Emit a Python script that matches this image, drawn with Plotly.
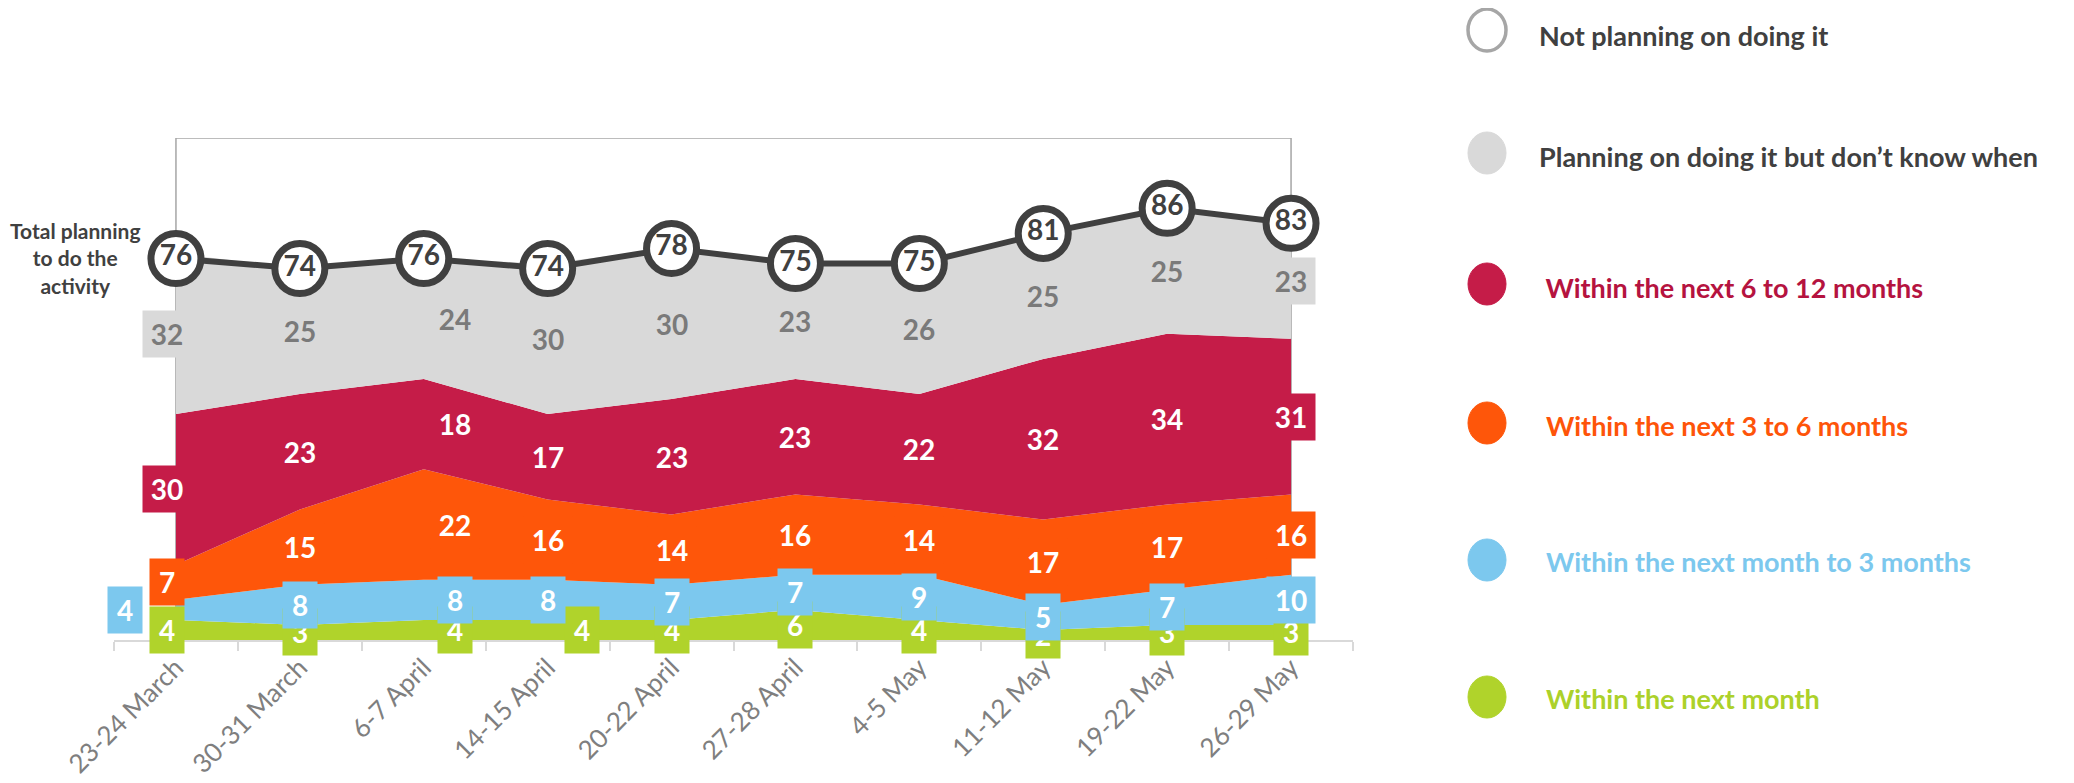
import plotly.graph_objects as go

# ---------------- data ----------------
categories = ["23-24 March", "30-31 March", "6-7 April", "14-15 April", "20-22 April",
              "27-28 April", "4-5 May", "11-12 May", "19-22 May", "26-29 May"]
within_month = [4, 3, 4, 4, 4, 6, 4, 2, 3, 3]
month_to_3 = [4, 8, 8, 8, 7, 7, 9, 5, 7, 10]
three_to_6 = [7, 15, 22, 16, 14, 16, 14, 17, 17, 16]
six_to_12 = [30, 23, 18, 17, 23, 23, 22, 32, 34, 31]
dont_know_when = [32, 25, 24, 30, 30, 23, 26, 25, 25, 23]
total_planning = [76, 74, 76, 74, 78, 75, 75, 81, 86, 83]

legend_labels = ["Not planning on doing it",
                 "Planning on doing it but don\u2019t know when",
                 " Within the next 6 to 12 months",
                 "Within the next 3 to 6 months",
                 "Within the next month to 3 months",
                 "Within the next month"]
total_label = "Total planning<br>to do the<br>activity"

# ---------------- styles ----------------
FONT = "Lato, 'Open Sans', sans-serif"
GREEN = "#b0d32b"
BLUE = "#7cc8ee"
ORANGE = "#fe560a"
CRIMSON = "#c51c48"
GREY = "#d9d9d9"
DARK = "#404040"

# the page body adds an 8px offset; the figure is sized/positioned to compensate
OFF = 8
W, H = 2074 - OFF, 783 - OFF
L, R, T, B = 114 - OFF, 1353 - OFF, 138 - OFF, 640 - OFF


def px(x):
    """screen x (page pixels) -> paper coordinate"""
    return ((x - OFF) - L) / (R - L)


def py(y):
    """screen y (page pixels) -> paper coordinate"""
    return (B - (y - OFF)) / (B - T)


fig = go.Figure()

series = [
    (within_month, GREEN, "white"),
    (month_to_3, BLUE, "white"),
    (three_to_6, ORANGE, "white"),
    (six_to_12, CRIMSON, "white"),
    (dont_know_when, GREY, "#7a7a7a"),
]

for vals, col, _ in series:
    fig.add_trace(go.Scatter(
        x=categories, y=vals, mode="lines", stackgroup="one",
        line=dict(width=0, color=col), fillcolor=col, hoverinfo="skip"))

fig.add_trace(go.Scatter(
    x=categories, y=total_planning, mode="lines+markers+text",
    line=dict(color=DARK, width=6),
    marker=dict(size=50, color="white", line=dict(color=DARK, width=7)),
    text=[str(v) for v in total_planning], textposition="middle center",
    textfont=dict(family=FONT, size=28, color=DARK, weight="bold"),
    hoverinfo="skip"))

# ---------------- data labels (boxes in series colour) ----------------
annotations = []
cum = [0] * len(categories)
cat_shift = {0: -9, 2: 31}
special_shift = {(0, 3): 34, (1, 0): -51}  # (series index, category) -> xshift
for si, (vals, col, tcol) in enumerate(series):
    for ci, v in enumerate(vals):
        mid = cum[ci] + v / 2
        xs = special_shift.get((si, ci), cat_shift.get(ci, 0))
        annotations.append(dict(
            x=categories[ci], y=mid, xref="x", yref="y", text=str(v),
            showarrow=False, xshift=xs,
            font=dict(family=FONT, size=28, color=tcol, weight="bold"),
            bgcolor=col, borderpad=0, width=34 if v < 10 else 48, height=46,
            align="center", valign="middle"))
        cum[ci] += v

# left label for the total line
annotations.append(dict(
    x=px(75), y=py(258), xref="paper", yref="paper", text=total_label,
    showarrow=False, xanchor="center", yanchor="middle", align="center",
    font=dict(family=FONT, size=21, color=DARK, weight="bold")))

# ---------------- custom legend ----------------
leg_rows = [30, 153, 284, 423, 560, 697]
leg_text_y = [36, 156, 287, 426, 561, 698]
leg_fill = ["white", GREY, CRIMSON, ORANGE, BLUE, GREEN]
leg_line = ["#a6a6a6", GREY, CRIMSON, ORANGE, BLUE, GREEN]
leg_tcol = [DARK, DARK, "#b5133f", "#fe5409", BLUE, "#acd12a"]
leg_tx = [1537, 1537, 1537, 1544, 1544, 1544]

shapes = []
for i, lab in enumerate(legend_labels):
    cy = leg_rows[i]
    shapes.append(dict(
        type="circle", xref="paper", yref="paper",
        x0=px(1468), x1=px(1506), y0=py(cy + 21), y1=py(cy - 21),
        fillcolor=leg_fill[i], line=dict(color=leg_line[i], width=3.5 if i == 0 else 1)))
    annotations.append(dict(
        x=px(leg_tx[i]), y=py(leg_text_y[i]), xref="paper", yref="paper",
        text=lab, showarrow=False, xanchor="left", yanchor="middle",
        font=dict(family=FONT, size=27, color=leg_tcol[i], weight="bold")))

# frame around the data range
shapes.append(dict(type="rect", xref="x", yref="y", x0=0, x1=9, y0=0, y1=100,
                   line=dict(color="#a6a6a6", width=1.5), layer="below"))

fig.update_layout(
    width=W, height=H,
    margin=dict(l=L, r=W - R, t=T, b=H - B, pad=0),
    paper_bgcolor="white", plot_bgcolor="white",
    showlegend=False,
    annotations=annotations, shapes=shapes,
    xaxis=dict(
        type="category", range=[-0.5, 9.5], tickson="boundaries",
        ticks="outside", ticklen=9, tickwidth=2, tickcolor="#d9d9d9",
        showline=True, linecolor="#d9d9d9", linewidth=2,
        showgrid=False, zeroline=False, tickangle=-45, automargin=False,
        tickfont=dict(family=FONT, size=26, color="#7f7f7f")),
    yaxis=dict(range=[0, 100], visible=False, showgrid=False, zeroline=False,
               automargin=False),
)

fig.write_html("out.html")
